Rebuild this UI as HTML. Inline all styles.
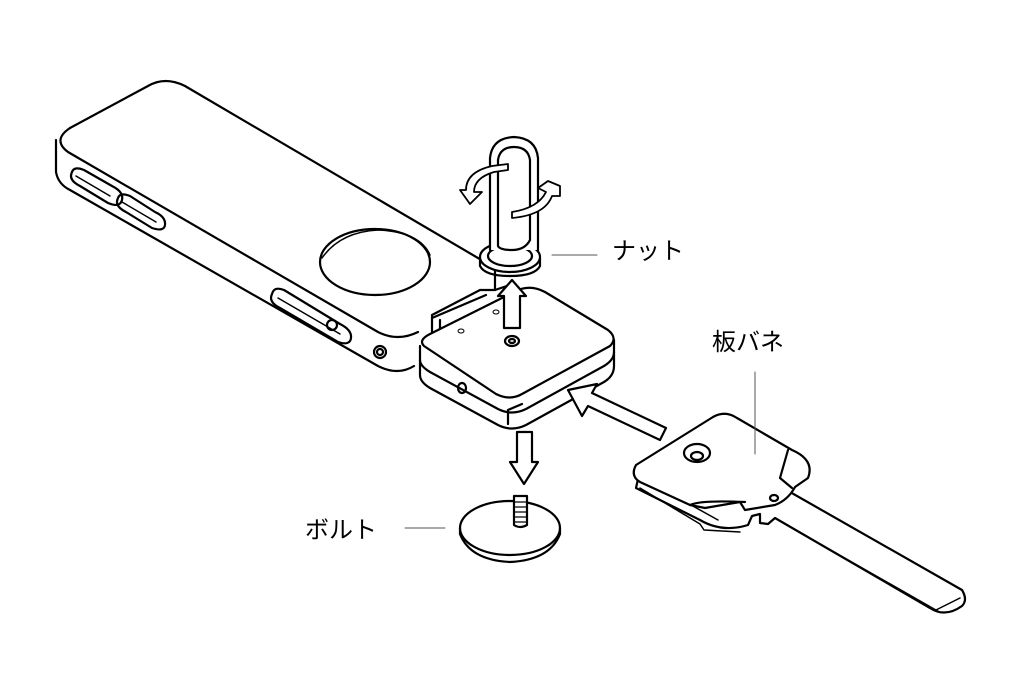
<!DOCTYPE html>
<html><head><meta charset="utf-8"><style>
html,body{margin:0;padding:0;background:#fff;}
svg{display:block}
text{font-family:"Liberation Sans","Noto Sans CJK JP",sans-serif;font-size:24px;fill:#000}
</style></head><body>
<svg width="1027" height="685" viewBox="0 0 1027 685" xmlns="http://www.w3.org/2000/svg">
<g fill="none" stroke="#000" stroke-width="2.2" stroke-linejoin="round" stroke-linecap="round">
<!-- main body -->
<path d="M70,128 L148,86 Q165,76 185,86 L495,268" fill="#fff"/>
<path d="M70,128 Q52,140 68,152 L378,332 Q398,342 418,332" />
<path d="M56,140 L56,172 Q58,184 70,190 L378,366 Q398,376 414,366"/>
<path d="M495,268 L495,290"/>
<ellipse cx="375" cy="262" rx="55" ry="33"/>
<path d="M322,258 Q340,232 378,230 Q420,232 430,255" stroke-width="1.5"/>
<!-- slots -->
<path d="M72,172 Q68,180 80,186 L108,203 Q120,208 122,200 Q124,192 112,186 L84,170 Q74,166 72,172Z"/>
<path d="M76,176 L110,196" stroke-width="1.5"/>
<path d="M118,198 Q114,206 126,212 L152,228 Q164,232 165,225 Q166,217 155,212 L130,196 Q120,192 118,198Z"/>
<path d="M122,202 L156,222" stroke-width="1.5"/>
<path d="M272,294 Q268,302 280,308 L338,342 Q350,346 351,338 Q352,330 340,324 L284,290 Q274,286 272,294Z"/>
<path d="M278,298 L340,334" stroke-width="1.5"/>
<circle cx="332" cy="325" r="5"/>
<circle cx="380" cy="352" r="6"/><circle cx="380" cy="352" r="3"/>
<!-- attachment block -->
<path d="M432,315 L480,290 L495,290 L510,285 M432,315 L432,338 M440,320 L440,336 M432,318 L486,295" />
<path d="M424,346 Q418,340 430,334 L516,291 Q530,284 545,292 L608,330 Q618,338 610,346 L522,394 Q510,401 496,394 Z" fill="#fff"/>
<path d="M420,346 L420,375 Q420,382 430,388 L498,425 Q512,432 526,425 L604,382 Q614,376 614,366 L614,340"/>
<path d="M420,360 Q420,366 430,372 L498,409 Q512,416 526,409 L604,366 Q614,360 614,352"/>
<path d="M508,410 L508,424 M508,410 L522,404"/>
<ellipse cx="512" cy="341" rx="7" ry="5"/><ellipse cx="512" cy="341" rx="3" ry="2"/>
<ellipse cx="461" cy="331" rx="3" ry="2" stroke-width="1"/><ellipse cx="496" cy="312" rx="3" ry="2" stroke-width="1"/>
<ellipse cx="462" cy="388" rx="4" ry="5"/>
<!-- nut and loop -->
<ellipse cx="510" cy="257" rx="30" ry="15" fill="#fff"/>
<path d="M480,260 L480,266 Q485,276 510,276 Q535,276 540,266 L540,258"/>
<ellipse cx="510" cy="256" rx="22" ry="10"/>
<path d="M490,250 L490,158 Q492,138 514,137 Q536,138 538,158 L538,250" fill="#fff"/>
<path d="M498,246 L498,160 Q500,147 514,147 Q528,147 530,160 L530,240 Q525,250 512,250 Q500,250 498,246Z"/>
<!-- rotation arrows -->
<path d="M508,164 L492,166 Q466,172 466,190 L460,190 L470,204 L482,192 L474,192 Q474,178 494,172 L508,170Z" fill="#fff" stroke-width="1.8"/>
<path d="M512,212 L512,218 Q545,215 552,196 L560,196 L560,186 L548,181 L538,188 L546,192 Q538,208 512,212Z" fill="#fff" stroke-width="1.8"/>
<!-- arrows -->
<path d="M504,328 L504,296 L498,296 L512,280 L526,296 L520,296 L520,328Z" fill="#fff"/>
<path d="M517,432 L517,462 L510,462 L524,484 L538,462 L532,462 L532,432Z" fill="#fff"/>
<path d="M666,428 L592,393 L597,384 L568,390 L582,416 L588,406 L660,440Z" fill="#fff"/>
<!-- bolt -->
<ellipse cx="510" cy="528" rx="50" ry="27" fill="#fff"/>
<path d="M460,528 L460,534 Q470,560 510,562 Q550,560 560,534 L560,528"/>
<path d="M514,496 L514,525 Q520,529 527,525 L527,496 Z" fill="#fff"/>
<path d="M514,502 L527,502 M514,507 L527,507 M514,512 L527,512 M514,517 L527,517 M514,522 L527,522" stroke-width="1.2"/>
<!-- key -->
<path d="M640,470 L636,488 L700,520 Q722,533 748,525 L752,516 L760,514 L760,523 L768,524 L775,518 L930,608 Q945,618 962,606 Q968,600 962,590 L790,492" fill="#fff"/>
<path d="M640,488 L700,524 L704,530 L740,532 M682,500 L718,520" stroke-width="1.5"/>
<path d="M775,518 L940,612" stroke-width="1"/>
<path d="M936,610 L960,598" stroke-width="1.5"/>
<path d="M636,465 L713,417 Q725,410 737,418 L792,450 Q815,460 808,478 L795,487 Q788,500 775,505 L745,510 L740,502 L705,508 L690,505 L640,482 Q630,476 636,465Z" fill="#fff"/>
<path d="M788,450 L780,478 L792,488"/>
<path d="M690,505 Q700,500 745,502"/>
<ellipse cx="697" cy="453" rx="13" ry="9"/><ellipse cx="697" cy="456" rx="6" ry="4"/>
<ellipse cx="774" cy="498" rx="4" ry="3"/>
<!-- leader lines -->
<path d="M552,255 L597,255 M405,528 L445,528 M755,372 L755,454" stroke-width="1" stroke="#555"/>
</g>
<text x="612" y="259">ナット</text>
<text x="712" y="350">板バネ</text>
<text x="305" y="538">ボルト</text>
</svg>
</body></html>
